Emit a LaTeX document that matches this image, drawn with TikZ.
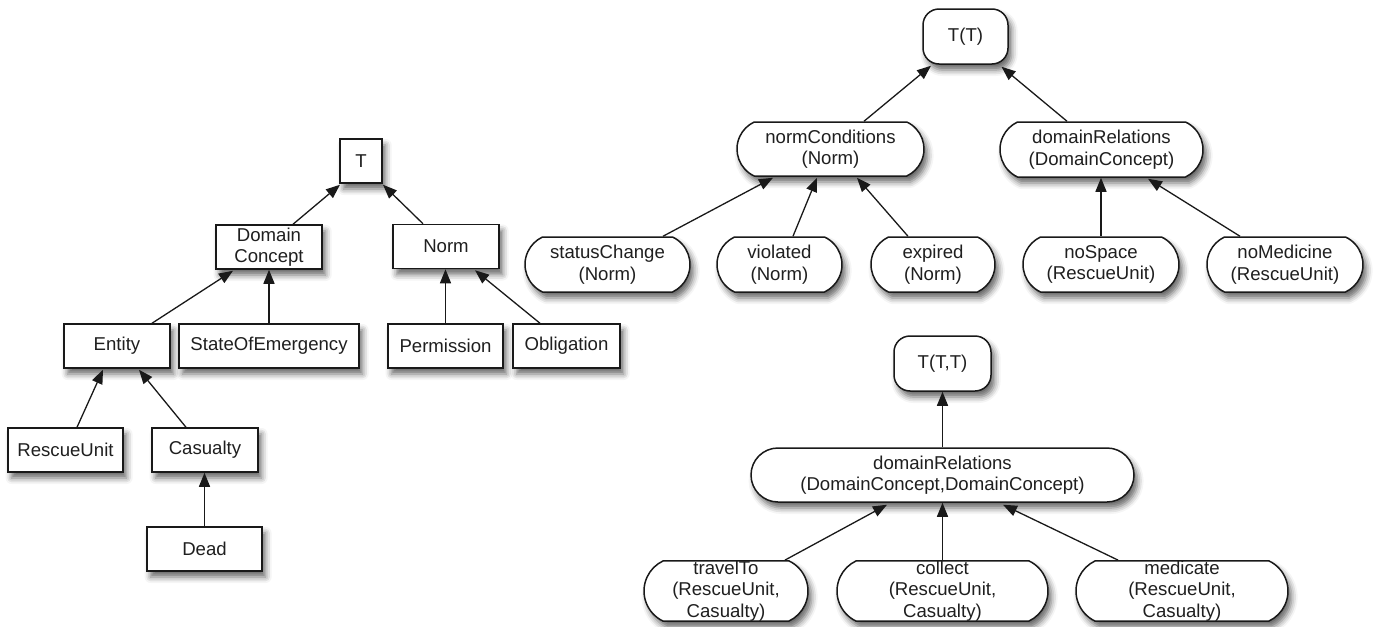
\documentclass[tikz,border=0pt]{standalone}
\usepackage{fontspec}
\setmainfont{Liberation Sans}
\usetikzlibrary{shapes.misc,arrows.meta,calc,shadows.blur}
\begin{document}
\begin{tikzpicture}[x=0.5pt,y=-0.5pt,
  base/.style={draw=black!90, line width=0.75pt, fill=white, inner sep=0pt, align=center, text=black!88,
     font=\fontsize{9.3pt}{10.8pt}\selectfont,
     blur shadow={shadow xshift=1.8pt, shadow yshift=-3pt, shadow blur radius=3pt, shadow opacity=60}},
  sq/.style={base, rectangle, minimum height=22pt},
  pill/.style={base, rounded rectangle, rounded rectangle arc length=130, minimum height=27.5pt},
  smallpill/.style={base, rectangle, rounded corners=8pt, minimum height=27.5pt},
  widepill/.style={base, rounded rectangle, rounded rectangle arc length=180, minimum height=27pt},
  tallpill/.style={pill, minimum height=30pt, font=\fontsize{9.3pt}{10.75pt}\selectfont},
  link/.style={draw=black!90, line width=0.65pt, -{Triangle[length=7pt,width=5.5pt]}}
]
\useasboundingbox (0,0) rectangle (1373,627);

% left tree
\node[sq, minimum width=21pt] (t) at (361,161) {T};
\node[sq, minimum width=53pt] (dc) at (269,247) {Domain\\Concept};
\node[sq, minimum width=53pt] (norm) at (446,246.5) {Norm};
\node[sq, minimum width=53pt] (entity) at (117,346) {Entity};
\node[sq, minimum width=90pt] (soe) at (269,346) {StateOfEmergency};
\node[sq, minimum width=57.5pt] (perm) at (445.5,346) {Permission};
\node[sq, minimum width=53.5pt] (obl) at (566.5,346) {Obligation};
\node[sq, minimum width=57.5pt] (ru) at (65.5,450) {RescueUnit};
\node[sq, minimum width=53pt] (cas) at (205,450) {Casualty};
\node[sq, minimum width=57.5pt] (dead) at (204.5,549) {Dead};

\draw[link] ($(dc.north)+(24,0)$) -- ($(t.south)+(-21,1)$);
\draw[link] ($(norm.north)+(-23,0)$) -- ($(t.south)+(22,1)$);
\draw[link] ($(entity.north)+(35,0)$) -- ($(dc.south)+(-36,1)$);
\draw[link] (soe.north) -- (dc.south);
\draw[link] (perm.north) -- (perm.north |- norm.south);
\draw[link] ($(obl.north)+(-26.5,0)$) -- ($(norm.south)+(29,1)$);
\draw[link] ($(ru.north)+(11.5,0)$) -- ($(entity.south)+(-14,1)$);
\draw[link] ($(cas.north)+(-19,0)$) -- ($(entity.south)+(22,1)$);
\draw[link] (dead.north) -- (dead.north |- cas.south);

% right top tree
\node[smallpill, minimum width=42.5pt] (tt) at (965.5,36.5) {T(T)};
\node[pill, minimum width=93.5pt, minimum height=27pt] (nc) at (830.5,149) {normConditions\\(Norm)};
\node[pill, minimum width=101.5pt] (drel) at (1101.5,149.5) {domainRelations\\(DomainConcept)};
\node[pill, minimum width=82.5pt] (sc) at (607.5,264.5) {statusChange\\(Norm)};
\node[pill, minimum width=62.5pt] (vi) at (779.5,264.5) {violated\\(Norm)};
\node[pill, minimum width=62pt] (ex) at (933,264.5) {expired\\(Norm)};
\node[pill, minimum width=78pt] (ns) at (1101,264.5) {noSpace\\(RescueUnit)};
\node[pill, minimum width=78pt] (nm) at (1285,264.5) {noMedicine\\(RescueUnit)};

\draw[link] ($(nc.north)+(33.5,0)$) -- ($(tt.south)+(-34.5,1)$);
\draw[link] ($(drel.north)+(-34.5,0)$) -- ($(tt.south)+(36,2)$);
\draw[link] ($(sc.north)+(55.5,0)$) -- ($(nc.south)+(-57.5,1)$);
\draw[link] ($(vi.north)+(13.5,0)$) -- ($(nc.south)+(-13.5,1)$);
\draw[link] ($(ex.north)+(-25,0)$) -- ($(nc.south)+(26.5,1)$);
\draw[link] (ns.north) -- (ns.north |- drel.south);
\draw[link] ($(nm.north)+(-45,0)$) -- ($(drel.south)+(46.5,1)$);

% right bottom tree
\node[smallpill, minimum width=48.5pt] (ttt) at (942.5,363.5) {T(T,T)};
\node[widepill, minimum width=191.5pt] (big) at (942.5,475) {domainRelations\\(DomainConcept,DomainConcept)};
\node[tallpill, minimum width=82pt] (tr) at (726,591) {travelTo\\(RescueUnit,\\Casualty)};
\node[tallpill, minimum width=105.5pt] (co) at (942.5,591) {collect\\(RescueUnit,\\Casualty)};
\node[tallpill, minimum width=106pt] (me) at (1182,591) {medicate\\(RescueUnit,\\Casualty)};

\draw[link] (big.north) -- (ttt.south);
\draw[link] ($(tr.north)+(59,0)$) -- ($(big.south)+(-55.5,2)$);
\draw[link] (co.north) -- (big.south);
\draw[link] ($(me.north)+(-64,0)$) -- ($(big.south)+(60.5,2)$);
\end{tikzpicture}
\end{document}
